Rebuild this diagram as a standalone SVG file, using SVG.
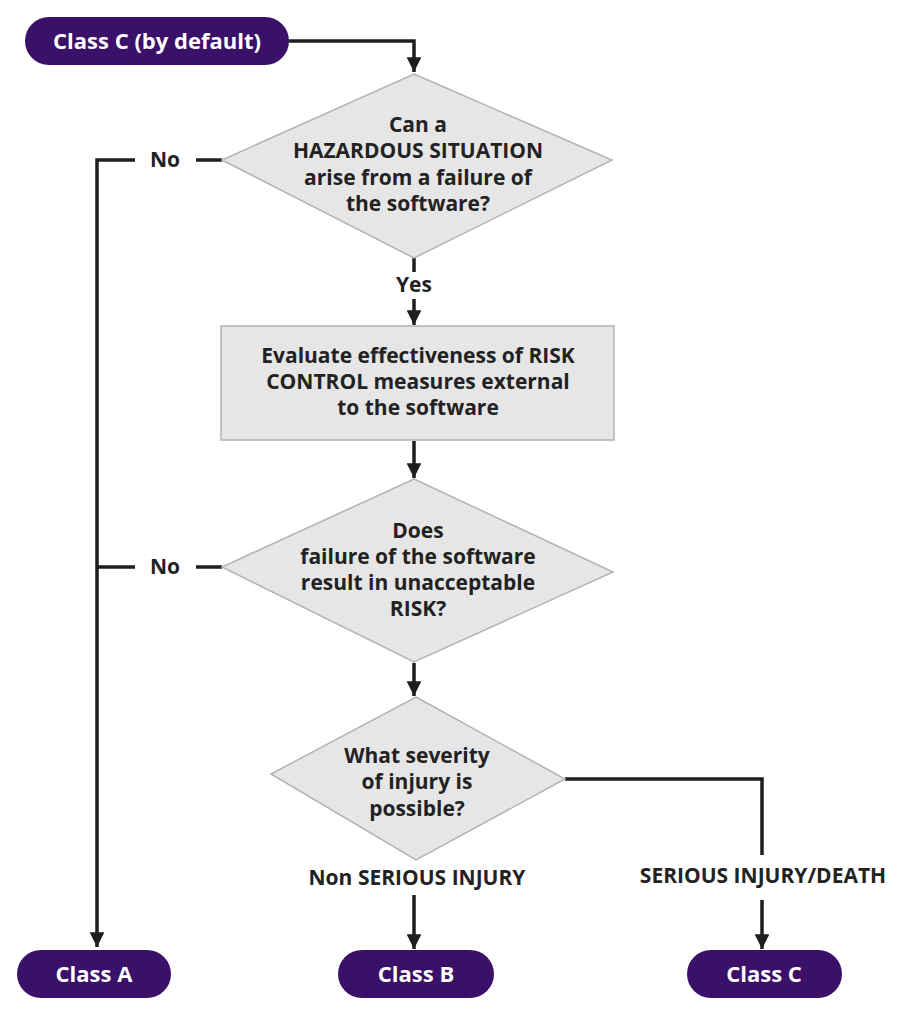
<svg xmlns="http://www.w3.org/2000/svg" width="898" height="1024" viewBox="0 0 898 1024">
<style>
.pill{fill:#3a1068}
.pt{fill:#fff;font-family:"Open Sans","Noto Sans",sans-serif;font-weight:700;font-size:22px;text-anchor:middle;dominant-baseline:central}
.dia{fill:#e6e6e6;stroke:#b3b3b3;stroke-width:1.5}
.t{fill:#222;font-family:"Open Sans","Noto Sans",sans-serif;font-weight:700;font-size:21px;text-anchor:middle;dominant-baseline:central}
.c{fill:none;stroke:#1e1e1e;stroke-width:3.5}
</style>
<defs>
<marker id="ah" viewBox="0 0 10 10" refX="10" refY="5" markerWidth="4.2" markerHeight="4.2" orient="auto" markerUnits="strokeWidth">
<path d="M0,0 L10,5 L0,10 Z" fill="#1e1e1e"/>
</marker>
</defs>
<rect width="898" height="1024" fill="#fff"/>
<g id="connectors">
<path class="c" d="M289,41 H414 V72" marker-end="url(#ah)"/>
<path class="c" d="M222,160 H196"/>
<path class="c" d="M135,160 H97 V947" marker-end="url(#ah)"/>
<path class="c" d="M414,258 V272"/>
<path class="c" d="M414,299 V325" marker-end="url(#ah)"/>
<path class="c" d="M414,441 V478" marker-end="url(#ah)"/>
<path class="c" d="M222,567 H196"/>
<path class="c" d="M135,567 H97"/>
<path class="c" d="M414,663 V696" marker-end="url(#ah)"/>
<path class="c" d="M565,779 H762 V855"/>
<path class="c" d="M762,900 V949" marker-end="url(#ah)"/>
<path class="c" d="M414,895 V949" marker-end="url(#ah)"/>
<text class="t" x="165" y="159">No</text>
<text class="t" x="165" y="566">No</text>
<text class="t" x="414" y="284">Yes</text>
<text class="t" x="417" y="877">Non SERIOUS INJURY</text>
<text class="t" x="763" y="875">SERIOUS INJURY/DEATH</text>
</g>
<g id="start">
<rect class="pill" x="25" y="17" width="264" height="48" rx="24"/>
<text class="pt" x="157" y="40">Class C (by default)</text>
</g>
<g id="q1">
<polygon class="dia" points="414,74 612,160 414,258 222,160"/>
<text class="t" x="418" y="124">Can a</text>
<text class="t" x="418" y="150">HAZARDOUS SITUATION</text>
<text class="t" x="418" y="177">arise from a failure of</text>
<text class="t" x="418" y="203">the software?</text>
</g>
<g id="evaluate">
<rect class="dia" x="221" y="326" width="393" height="114"/>
<text class="t" x="418" y="355">Evaluate effectiveness of RISK</text>
<text class="t" x="418" y="381">CONTROL measures external</text>
<text class="t" x="418" y="407">to the software</text>
</g>
<g id="q2">
<polygon class="dia" points="414,479 613,572 414,662 222,567"/>
<text class="t" x="418" y="530">Does</text>
<text class="t" x="418" y="556">failure of the software</text>
<text class="t" x="418" y="582">result in unacceptable</text>
<text class="t" x="418" y="608">RISK?</text>
</g>
<g id="q3">
<polygon class="dia" points="416,697 565,779 416,860 271,774"/>
<text class="t" x="417" y="755">What severity</text>
<text class="t" x="417" y="781">of injury is</text>
<text class="t" x="417" y="808">possible?</text>
</g>
<g id="classA">
<rect class="pill" x="17" y="950" width="154" height="48" rx="24"/>
<text class="pt" x="94" y="973">Class A</text>
</g>
<g id="classB">
<rect class="pill" x="338" y="950" width="156" height="48" rx="24"/>
<text class="pt" x="416" y="973">Class B</text>
</g>
<g id="classC">
<rect class="pill" x="687" y="950" width="155" height="48" rx="24"/>
<text class="pt" x="764" y="973">Class C</text>
</g>
</svg>
